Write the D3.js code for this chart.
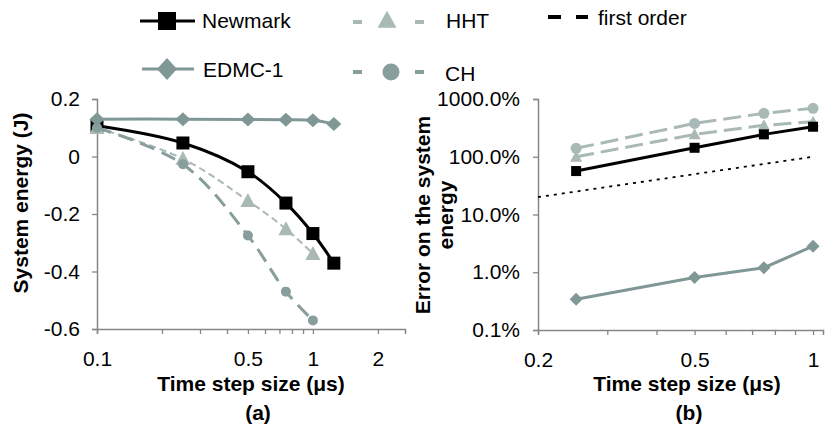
<!DOCTYPE html>
<meta charset="utf-8">
<style>
	body { margin: 0; background: #fff; }
	text { font-family: "Liberation Sans", Arial, sans-serif; }
</style>
<body>
<script src="https://cdn.jsdelivr.net/npm/d3@7"></script>
<script>

	// ---- data ----
	// (a) system energy vs time step
	var xLeft = [0.1, 0.25, 0.5, 0.75, 1, 1.25];
	var newmarkLeft = [0.107, 0.047, -0.053, -0.162, -0.268, -0.371];
	var edmcLeft = [0.13, 0.13, 0.129, 0.128, 0.126, 0.113];
	var hhtLeft = [0.1, -0.008, -0.154, -0.252, -0.338];
	var chLeft = [0.1, -0.027, -0.275, -0.47, -0.57];

	// (b) error on the system energy (%)
	var xRight = [0.25, 0.5, 0.75, 1];
	var newmarkRight = [56.5, 143, 244, 331];
	var hhtRight = [100, 244, 350, 404];
	var chRight = [140, 378, 565, 690];
	var edmcRight = [0.34, 0.81, 1.2, 2.82];
	var firstOrderX = [0.2, 1];
	var firstOrderY = [20, 100];

	var leftYTicks = [-0.6, -0.4, -0.2, 0, 0.2];
	var leftXTicks = [0.1, 0.2, 0.3, 0.4, 0.5, 0.6, 0.7, 0.8, 0.9, 1, 2];
	var leftXLabels = [0.1, 0.5, 1, 2];
	var rightYTicks = [0.1, 1, 10, 100, 1000];
	var rightXTicks = [0.2, 0.3, 0.4, 0.5, 0.6, 0.7, 0.8, 0.9, 1];
	var rightXLabels = [0.2, 0.5, 1];

	// ---- styles ----
	var axisColor = "#868686";
	var edmcColor = "#7f9896";
	var hhtColor = "#a9b9b6";
	var chColor = "#889e9c";
	var fontSize = 21;
	var titleSize = 21;

	var svg = d3.select("body").append("svg")
		.attr("width", 833)
		.attr("height", 437);

	var xL = d3.scaleLog().domain([0.1, 2.67]).range([97, 405]);
	var yL = d3.scaleLinear().domain([-0.6, 0.2]).range([329, 99]);
	var xR = d3.scaleLog().domain([0.2, 1.06]).range([538, 823]);
	var yR = d3.scaleLog().domain([0.1, 1000]).range([330, 99]);

	function marker(type, w, h) {
		var a = w / 2, b = (h || w) / 2;
		if (type == "square") return "M" + (-a) + "," + (-b) + "H" + a + "V" + b + "H" + (-a) + "Z";
		if (type == "diamond") return "M0," + (-b) + "L" + a + ",0L0," + b + "L" + (-a) + ",0Z";
		if (type == "triangle") return "M0," + (-b * 1.1) + "L" + a + "," + (b * 0.9) + "L" + (-a) + "," + (b * 0.9) + "Z";
		// circle
		return "M" + a + ",0A" + a + "," + a + " 0 1,1 " + (-a) + ",0A" + a + "," + a + " 0 1,1 " + a + ",0Z";
	}

	function styleAxis(g) {
		g.select(".domain").attr("stroke", axisColor).attr("stroke-width", 1.5);
		g.selectAll(".tick line").attr("stroke", axisColor).attr("stroke-width", 1.3);
		g.selectAll(".tick text")
			.attr("fill", "#000")
			.attr("font-size", fontSize + "px")
			.attr("font-family", "'Liberation Sans', Arial, sans-serif");
	}

	function fmtEnergy(d) {
		if (d == 0) return "0";
		return (d < 0 ? "-" : "") + Math.abs(d).toFixed(1);
	}

	// ---- axes (a) ----
	svg.append("g")
		.attr("transform", "translate(0," + yL(-0.6) + ")")
		.call(d3.axisBottom(xL).tickValues(leftXTicks).tickSizeOuter(0).tickSize(5).tickPadding(17)
			.tickFormat(function(d) { return leftXLabels.indexOf(d) >= 0 ? String(d) : ""; }))
		.call(styleAxis);

	svg.append("g")
		.attr("transform", "translate(" + xL(0.1) + ",0)")
		.call(d3.axisLeft(yL).tickValues(leftYTicks).tickSizeOuter(0).tickSize(5).tickPadding(12)
			.tickFormat(fmtEnergy))
		.call(styleAxis);

	// ---- axes (b) ----
	svg.append("g")
		.attr("transform", "translate(0," + yR(0.1) + ")")
		.call(d3.axisBottom(xR).tickValues(rightXTicks).tickSizeOuter(0).tickSize(5).tickPadding(17)
			.tickFormat(function(d) { return rightXLabels.indexOf(d) >= 0 ? String(d) : ""; }))
		.call(styleAxis);

	svg.append("g")
		.attr("transform", "translate(" + xR(0.2) + ",0)")
		.call(d3.axisLeft(yR).tickValues(rightYTicks).tickSizeOuter(0).tickSize(5).tickPadding(13)
			.tickFormat(function(d) { return d.toFixed(1) + "%"; }))
		.call(styleAxis);

	// ---- series helper ----
	function drawSeries(xs, ys, xs_scale, ys_scale, opt) {
		var pts = ys.map(function(v, i) { return [xs_scale(xs[i]), ys_scale(v)]; });
		var line = d3.line();
		if (opt.smooth) line.curve(d3.curveCatmullRom.alpha(0.5));
		svg.append("path")
			.attr("d", line(pts))
			.attr("fill", "none")
			.attr("stroke", opt.color)
			.attr("stroke-width", opt.width)
			.attr("stroke-dasharray", opt.dash || null);
		svg.selectAll(null)
			.data(pts)
			.enter()
			.append("path")
			.attr("transform", function(d) { return "translate(" + d[0] + "," + d[1] + ")"; })
			.attr("d", marker(opt.marker, opt.mw, opt.mh))
			.attr("fill", opt.mcolor || opt.color);
	}

	// (a)
	drawSeries(xLeft, newmarkLeft, xL, yL, {color: "#000", width: 3, smooth: true, marker: "square", mw: 13});
	drawSeries(xLeft, hhtLeft, xL, yL, {color: hhtColor, width: 2, dash: "7,4", smooth: true, marker: "triangle", mw: 15, mh: 14});
	drawSeries(xLeft, chLeft, xL, yL, {color: chColor, width: 3, dash: "15,8", smooth: true, marker: "circle", mw: 10});
	drawSeries(xLeft, edmcLeft, xL, yL, {color: edmcColor, width: 3, smooth: true, marker: "diamond", mw: 15, mh: 14});

	// (b)
	svg.append("path")
		.attr("d", d3.line()(firstOrderX.map(function(v, i) { return [xR(v), yR(firstOrderY[i])]; })))
		.attr("fill", "none")
		.attr("stroke", "#000")
		.attr("stroke-width", 1.8)
		.attr("stroke-dasharray", "3,5");
	drawSeries(xRight, chRight, xR, yR, {color: hhtColor, width: 3, dash: "18,7", marker: "circle", mw: 11});
	drawSeries(xRight, hhtRight, xR, yR, {color: hhtColor, width: 3, dash: "18,7", marker: "triangle", mw: 12, mh: 11});
	drawSeries(xRight, newmarkRight, xR, yR, {color: "#000", width: 3, marker: "square", mw: 10});
	drawSeries(xRight, edmcRight, xR, yR, {color: edmcColor, width: 3, marker: "diamond", mw: 13, mh: 13});

	// ---- legend ----
	var legend = svg.append("g");
	function legendLine(x1, x2, y, color, w) {
		legend.append("line").attr("x1", x1).attr("x2", x2).attr("y1", y).attr("y2", y)
			.attr("stroke", color).attr("stroke-width", w);
	}
	function legendMark(x, y, type, color, w, h) {
		legend.append("path").attr("transform", "translate(" + x + "," + y + ")")
			.attr("d", marker(type, w, h)).attr("fill", color);
	}
	function legendText(x, y, t) {
		legend.append("text").attr("x", x).attr("y", y).text(t)
			.attr("font-size", fontSize + "px").attr("fill", "#000");
	}
	legendLine(140, 195, 21, "#000", 3);
	legendMark(167, 21, "square", "#000", 18);
	legendText(202, 28, "Newmark");

	legendLine(142, 194, 69, edmcColor, 3);
	legendMark(167, 69, "diamond", edmcColor, 20, 22);
	legendText(203, 77, "EDMC-1");

	legendLine(353, 362, 22, hhtColor, 4);
	legendLine(415, 424, 22, hhtColor, 4);
	legendMark(387, 20, "triangle", hhtColor, 19, 17);
	legendText(446, 28, "HHT");

	legendLine(353, 362, 72, chColor, 4);
	legendLine(415, 424, 72, chColor, 4);
	legendMark(391, 72, "circle", chColor, 17);
	legendText(445, 81, "CH");

	legendLine(548, 561, 17, "#000", 4);
	legendLine(576, 588, 17, "#000", 4);
	legendText(598, 25, "first order");

	// ---- titles ----
	function title(x, y, t, rot) {
		svg.append("text")
			.attr("transform", "translate(" + x + "," + y + ")" + (rot ? " rotate(-90)" : ""))
			.attr("text-anchor", "middle")
			.attr("font-size", titleSize + "px")
			.attr("font-weight", "bold")
			.text(t);
	}
	title(251, 391, "Time step size (μs)");
	title(258, 420, "(a)");
	title(28, 203, "System energy (J)", true);

	title(687, 391, "Time step size (μs)");
	title(689, 420, "(b)");
	title(430, 215, "Error on the system", true);
	title(453, 215, "energy", true);

</script>
</body>
